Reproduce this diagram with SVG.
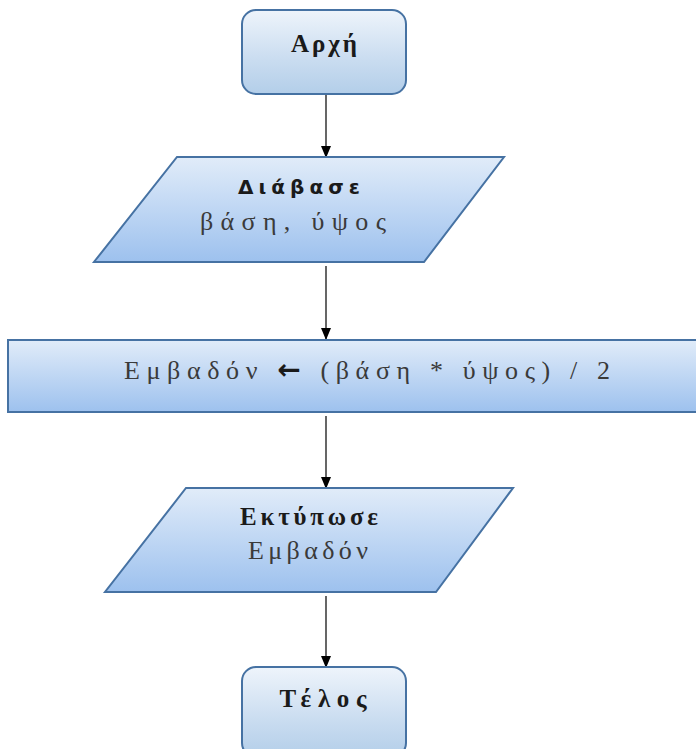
<svg xmlns="http://www.w3.org/2000/svg" width="696" height="749" viewBox="0 0 696 749">
<defs>
<linearGradient id="gTerm" x1="0" y1="0" x2="0" y2="1">
<stop offset="0" stop-color="#eef4fb"/>
<stop offset="0.6" stop-color="#c9dcf0"/>
<stop offset="1" stop-color="#b3cee9"/>
</linearGradient>
<linearGradient id="gBox" x1="0" y1="0" x2="0" y2="1">
<stop offset="0" stop-color="#e1ecf9"/>
<stop offset="1" stop-color="#9dc1ee"/>
</linearGradient>
<marker id="ah" markerWidth="12" markerHeight="12" refX="11" refY="6" orient="auto" markerUnits="userSpaceOnUse">
<path d="M0,1 L12,6 L0,11 Z" fill="#000"/>
</marker>
<style>
.shape{stroke:#4672a3;stroke-width:2}
.term{fill:url(#gTerm)}
.box{fill:url(#gBox)}
.b{font-family:"Liberation Serif","DejaVu Serif",serif;font-weight:bold;font-size:25px;fill:#1a1a1a;text-anchor:middle}
.r{font-family:"Liberation Serif","DejaVu Serif",serif;font-size:26px;fill:#3a3a3a;text-anchor:middle}
.edge{stroke:#000;stroke-width:1.2;fill:none;marker-end:url(#ah)}
</style>
</defs>
<g id="connectors">
<line class="edge" x1="326" y1="95" x2="326" y2="157"/>
<line class="edge" x1="326" y1="266" x2="326" y2="339"/>
<line class="edge" x1="326" y1="416" x2="326" y2="488"/>
<line class="edge" x1="326" y1="596" x2="326" y2="667"/>
</g>
<g id="start">
<rect class="shape term" x="242" y="10" width="164" height="84" rx="14"/>
<text class="b" x="324" y="52" textLength="66" lengthAdjust="spacing">Αρχή</text>
</g>
<g id="read">
<polygon class="shape box" points="177,157 504,157 424,262 94,262"/>
<text x="299" y="194" text-anchor="middle" font-family="DejaVu Sans,sans-serif" font-weight="bold" font-size="20" fill="#1a1a1a" textLength="122" lengthAdjust="spacing">Διάβασε</text>
<text class="r" x="293" y="230" textLength="186" lengthAdjust="spacing">βάση, ύψος</text>
</g>
<g id="assign">
<rect class="shape box" x="8" y="340" width="720" height="72"/>
<text class="r" x="367" y="379" textLength="486" lengthAdjust="spacing">Εμβαδόν <tspan font-family="DejaVu Sans,sans-serif" font-weight="bold" font-size="28" fill="#1a1a1a">←</tspan> (βάση * ύψος) / 2</text>
</g>
<g id="print">
<polygon class="shape box" points="186,488 513,488 436,592 105,592"/>
<text class="b" x="309" y="525" textLength="138" lengthAdjust="spacing">Εκτύπωσε</text>
<text class="r" x="308" y="559" textLength="120" lengthAdjust="spacing">Εμβαδόν</text>
</g>
<g id="end">
<rect class="shape term" x="242" y="667" width="164" height="90" rx="14"/>
<text class="b" x="323" y="707" textLength="87" lengthAdjust="spacing">Τέλος</text>
</g>
</svg>
